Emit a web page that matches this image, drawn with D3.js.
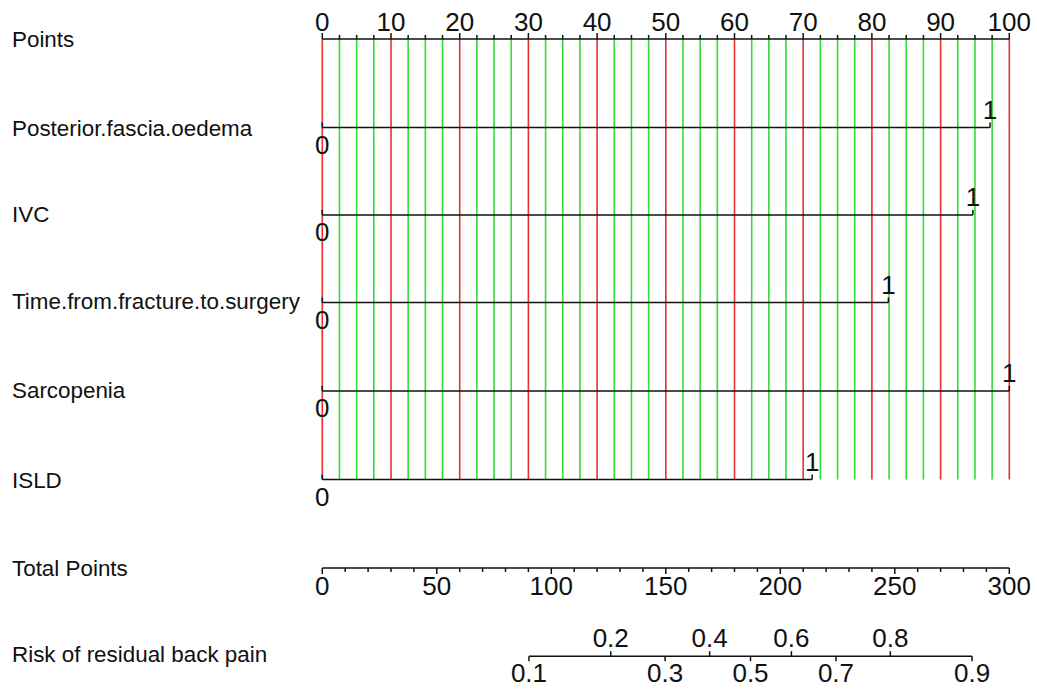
<!DOCTYPE html>
<html><head><meta charset="utf-8">
<script src="https://cdn.jsdelivr.net/npm/d3@7"></script>
<style>
html,body{margin:0;padding:0;background:#fff;}
svg{display:block;}
text{font-family:"Liberation Sans",Arial,sans-serif;fill:#111;}
</style></head>
<body>
<svg id="chart" width="1037" height="689"></svg>
<script>
// ---- data ----
const pointTicks = d3.range(0, 101, 10);
const variables = ["Posterior.fascia.oedema", "IVC", "Time.from.fracture.to.surgery", "Sarcopenia", "ISLD"];
const levelLabels = ["0", "1"];
const pointsAtOne = [97.2, 94.7, 82.4, 100, 71.3];
const totalTicks = [0, 50, 100, 150, 200, 250, 300];
const riskTicks = [0.1, 0.2, 0.3, 0.4, 0.5, 0.6, 0.7, 0.8, 0.9];
const riskMidPoints = 187.0;   // total points where risk = 0.5
const riskSlope = 0.02271;     // logit per total point
const rowLabels = ["Points"].concat(variables, ["Total Points", "Risk of residual back pain"]);

// ---- layout ----
const svg = d3.select("#chart");
const xL = 322.3, xR = 1009.3;
const xPts = d3.scaleLinear().domain([0, 100]).range([xL, xR]);
const xTot = d3.scaleLinear().domain([0, 300]).range([xL, xR]);
const xLp = d3.scaleLinear().domain([-riskMidPoints * riskSlope, (300 - riskMidPoints) * riskSlope]).range([xL, xR]);
const logit = p => Math.log(p / (1 - p));
const rowY = [39, 127.5, 215, 302.5, 391, 479.5, 568, 656.2];
const labelDy = [8, 8, 7, 6, 7, 8, 8, 6];
const red = "#e8302f", green = "#33dd33";
const tickFs = 26, labelFs = 22.4;

// left labels
svg.selectAll("text.rowlab").data(rowLabels).join("text")
  .attr("class", "rowlab")
  .attr("x", 12).attr("y", (d, i) => rowY[i] + labelDy[i])
  .attr("font-size", labelFs).text(d => d);

// grid lines
const gridVals = d3.range(0, 100.01, 2.5);
svg.append("g").selectAll("line").data(gridVals).join("line")
  .attr("x1", d => xPts(d)).attr("x2", d => xPts(d))
  .attr("y1", rowY[0]).attr("y2", rowY[5])
  .attr("stroke", d => (d % 10 === 0) ? red : green)
  .attr("stroke-width", 1.6);

// Points axis (ticks up)
const gP = svg.append("g").attr("transform", `translate(0,${rowY[0]})`);
gP.append("line").attr("x1", xL).attr("x2", xR).attr("stroke", "#111").attr("stroke-width", 1.5);
gP.selectAll("line.t").data(gridVals).join("line").attr("class", "t")
  .attr("x1", d => xPts(d)).attr("x2", d => xPts(d))
  .attr("y1", 0).attr("y2", d => d % 10 === 0 ? -6 : -4)
  .attr("stroke", "#111").attr("stroke-width", 1.5);
gP.selectAll("text").data(pointTicks).join("text")
  .attr("x", d => xPts(d)).attr("y", -8).attr("text-anchor", "middle")
  .attr("font-size", tickFs).text(d => d);

// variable rows
variables.forEach((v, i) => {
  const y = rowY[i + 1];
  const g = svg.append("g").attr("transform", `translate(0,${y})`);
  const vals = [0, pointsAtOne[i]];
  g.append("line").attr("x1", xPts(0)).attr("x2", xPts(vals[1]))
    .attr("stroke", "#111").attr("stroke-width", 1.5);
  g.selectAll("line.t").data(vals).join("line").attr("class", "t")
    .attr("x1", d => xPts(d)).attr("x2", d => xPts(d))
    .attr("y1", 0).attr("y2", -5).attr("stroke", "#111").attr("stroke-width", 1.5);
  g.append("text").attr("x", xPts(0)).attr("y", 26).attr("text-anchor", "middle")
    .attr("font-size", tickFs).text(levelLabels[0]);
  g.append("text").attr("x", xPts(vals[1])).attr("y", -9).attr("text-anchor", "middle")
    .attr("font-size", tickFs).text(levelLabels[1]);
});

// Total points axis (ticks down)
const gT = svg.append("g").attr("transform", `translate(0,${rowY[6]})`);
gT.append("line").attr("x1", xL).attr("x2", xR).attr("stroke", "#111").attr("stroke-width", 1.5);
gT.selectAll("line.t").data(d3.range(0, 301, 10)).join("line").attr("class", "t")
  .attr("x1", d => xTot(d)).attr("x2", d => xTot(d))
  .attr("y1", 0).attr("y2", d => d % 50 === 0 ? 6 : 4)
  .attr("stroke", "#111").attr("stroke-width", 1.5);
gT.selectAll("text").data(totalTicks).join("text")
  .attr("x", d => xTot(d)).attr("y", 27).attr("text-anchor", "middle")
  .attr("font-size", tickFs).text(d => d);

// Risk axis
const gR = svg.append("g").attr("transform", `translate(0,${rowY[7]})`);
const rx = p => xLp(logit(p));
gR.append("line").attr("x1", rx(riskTicks[0])).attr("x2", rx(riskTicks[riskTicks.length - 1]))
  .attr("stroke", "#111").attr("stroke-width", 1.5);
gR.selectAll("line.t").data(riskTicks).join("line").attr("class", "t")
  .attr("x1", d => rx(d)).attr("x2", d => rx(d))
  .attr("y1", 0).attr("y2", (d, i) => i % 2 === 0 ? 5 : -5)
  .attr("stroke", "#111").attr("stroke-width", 1.5);
gR.selectAll("text").data(riskTicks).join("text")
  .attr("x", d => rx(d)).attr("y", (d, i) => i % 2 === 0 ? 26 : -9)
  .attr("text-anchor", "middle").attr("font-size", tickFs)
  .text(d => d3.format(".1f")(d));
</script>
</body></html>
